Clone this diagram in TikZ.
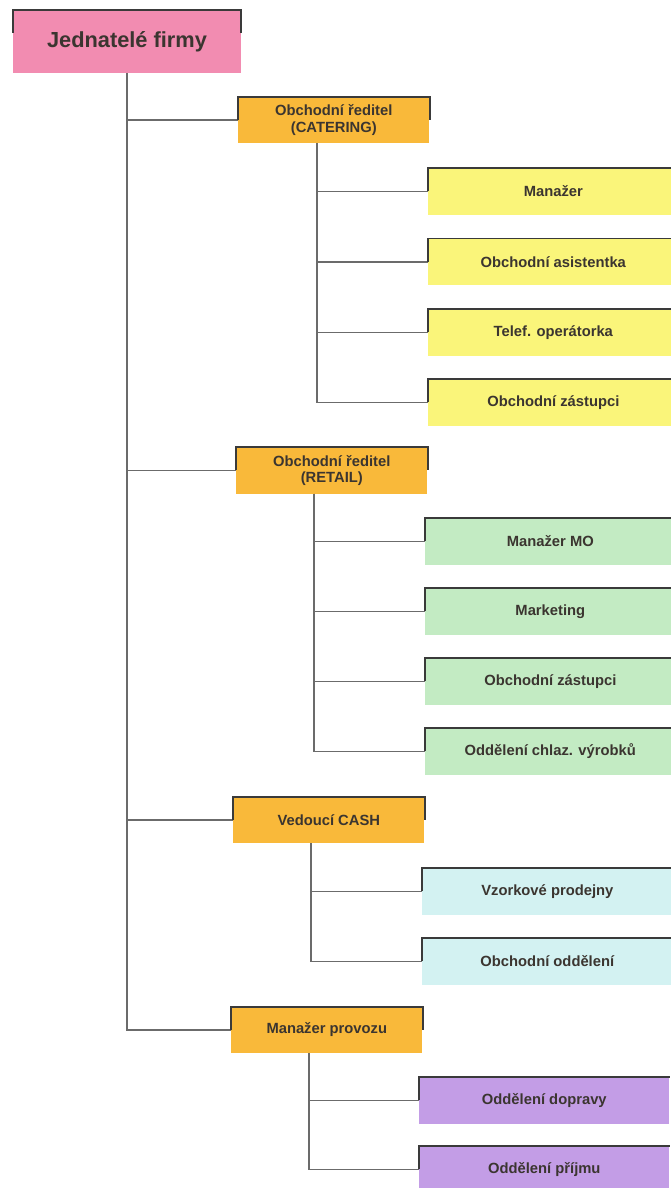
\documentclass[tikz,border=0pt]{standalone}
\usepackage{fontspec}
\setmainfont{Liberation Sans}
\usepackage{xcolor}
\usepackage{tikz}
\definecolor{ruzova}{HTML}{F28CB1}
\definecolor{oranz}{HTML}{F9B93A}
\definecolor{zluta}{HTML}{FAF57A}
\definecolor{zelena}{HTML}{C3EBC3}
\definecolor{modra}{HTML}{D3F2F2}
\definecolor{fialova}{HTML}{C39DE6}
\definecolor{linka}{HTML}{6B6B6B}
\definecolor{ramecek}{HTML}{3A3A3A}
\definecolor{pismo}{HTML}{3B3530}

\begin{document}
\begin{tikzpicture}[x=0.025cm, y=-0.025cm,
    box/.style={anchor=west, inner sep=0pt, align=center, text=pismo,
      font=\bfseries\fontsize{10.5}{12}\selectfont},
    vedeni/.style={box, fill=oranz, minimum width=47.75mm, minimum height=11.5mm},
    oddeleni/.style={box, fill=#1, minimum width=62.5mm, minimum height=11.6mm},
    spoj/.style={linka, line width=1.2pt},
    okraj/.style={ramecek, line width=1.3pt}]
    \useasboundingbox (0,0) rectangle (670,1188);

    \node[box, anchor=center, fill=ruzova, minimum width=57mm, minimum height=15.75mm,
      font=\bfseries\fontsize{15.5}{18}\selectfont] (jed) at (127,41.5) {Jednatelé firmy};

    \node[vedeni] (cat) at (238,120) {Obchodní ředitel\\(CATERING)};
    \node[vedeni] (ret) at (236,470.5) {Obchodní ředitel\\(RETAIL)};
    \node[vedeni] (cash) at (233,820) {Vedoucí CASH};
    \node[vedeni] (prov) at (231,1030) {Manažer provozu};

    \node[oddeleni=zluta] (man) at (428,191.5) {Manažer};
    \node[oddeleni=zluta] (asis) at (428,262) {Obchodní asistentka};
    \node[oddeleni=zluta] (tel) at (428,332.5) {Telef. operátorka};
    \node[oddeleni=zluta] (zast1) at (428,402.5) {Obchodní zástupci};

    \node[oddeleni=zelena] (mo) at (425,541.5) {Manažer MO};
    \node[oddeleni=zelena] (mark) at (425,611.5) {Marketing};
    \node[oddeleni=zelena] (zast2) at (425,681.5) {Obchodní zástupci};
    \node[oddeleni=zelena] (chlaz) at (425,751.5) {Oddělení chlaz. výrobků};

    \node[oddeleni=modra] (vzor) at (422,891.5) {Vzorkové prodejny};
    \node[oddeleni=modra] (obod) at (422,961.5) {Obchodní oddělení};

    \node[oddeleni=fialova] (dopr) at (419,1100.5) {Oddělení dopravy};
    \node[oddeleni=fialova] (prij) at (419,1169.5) {Oddělení příjmu};

    % hlavni vetev
    \draw[spoj] (jed.south) |- (prov.west);
    \foreach \n in {cat,ret,cash}
        \draw[spoj] (jed.south |- \n.west) -- (\n.west);
    \foreach \n in {man,asis,tel,zast1}
        \draw[spoj] ([xshift=19.75mm]cat.south west) |- (\n.west);
    \foreach \n in {mo,mark,zast2,chlaz}
        \draw[spoj] ([xshift=19.5mm]ret.south west) |- (\n.west);
    \foreach \n in {vzor,obod}
        \draw[spoj] ([xshift=19.5mm]cash.south west) |- (\n.west);
    \foreach \n in {dopr,prij}
        \draw[spoj] ([xshift=19.5mm]prov.south west) |- (\n.west);

    % horni okraj ramecku
    \foreach \n in {jed,cat,ret,cash,prov}
        \draw[okraj] ([yshift=-5.75mm]\n.north west) |- (\n.north east) -- ++(0,-5.75mm);
    \foreach \n in {man,asis,tel,zast1,mo,mark,zast2,chlaz,vzor,obod,dopr,prij}
        \draw[okraj] ([yshift=-5.75mm]\n.north west) |- (\n.north east);
\end{tikzpicture}
\end{document}
